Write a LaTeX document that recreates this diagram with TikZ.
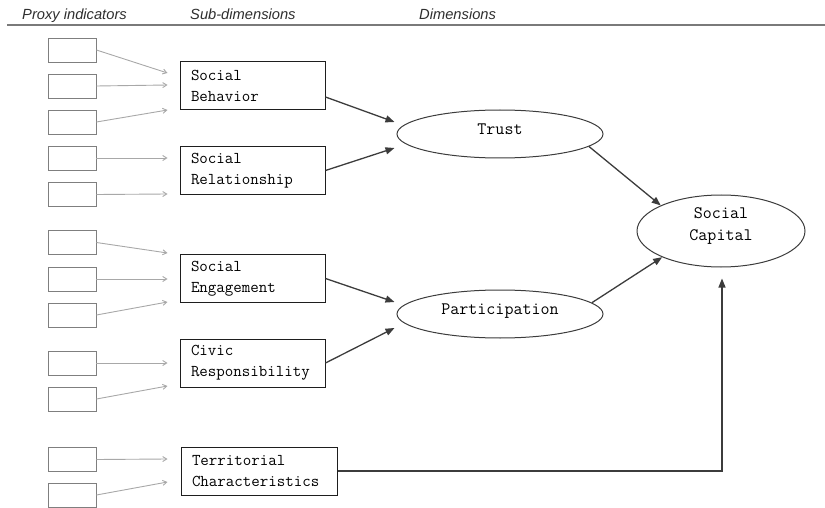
\documentclass[tikz,border=0pt]{standalone}
\usepackage{fontspec}
\setsansfont{Liberation Sans}
\usepackage{xcolor}
\usepackage{tikz}
\usetikzlibrary{arrows.meta,positioning,shapes.geometric,calc}
\definecolor{ink}{HTML}{1E1E1E}
\definecolor{darkline}{HTML}{3C3C3C}
\definecolor{proxygray}{HTML}{7F7F7F}
\definecolor{arrowgray}{HTML}{A8A8A8}
\definecolor{rulegray}{HTML}{7A7A7A}
\definecolor{headtext}{HTML}{2E2E2E}
\tikzset{
  proxybox/.style={
    rectangle, draw=proxygray, line width=0.9pt,
    minimum width=48pt, minimum height=24pt, inner sep=0pt
  },
  subbox/.style={
    rectangle, draw=ink, line width=1pt,
    minimum width=145pt, minimum height=48pt,
    font=\fontsize{16.5}{21}\selectfont\ttfamily, align=left,
    text width=#1, inner xsep=11pt, inner ysep=3pt
  },
  subbox/.default=123pt,
  dimnode/.style={
    ellipse, draw=darkline, line width=1pt, inner sep=0pt,
    font=\fontsize{17.5}{22}\selectfont\ttfamily, align=center
  },
  proxyarrow/.style={
    -{Straight Barb[length=4pt, width=5pt]}, line width=0.9pt, color=arrowgray
  },
  linkarrow/.style={
    -{Triangle[length=9pt, width=7pt]}, line width=1.3pt, color=darkline
  },
  headnode/.style={
    font=\fontsize{14.7}{17}\selectfont\sffamily\itshape, text=headtext,
    anchor=base west, inner sep=0pt
  },
}
\begin{document}
\begin{tikzpicture}[x=1pt, y=-1pt]
\useasboundingbox (0,0) rectangle (825,508);

% Column headings and rule
\node[headnode] (hproxy) at (22,19.5) {Proxy indicators};
\node[headnode] (hsub) at (190,19.5) {Sub-dimensions};
\node[headnode] (hdim) at (419,19.5) {Dimensions};
\coordinate (ruleL) at (7,25);
\coordinate (ruleR) at (825,25);
\draw[rulegray, line width=1.4pt] (ruleL) -- (ruleR);

% Sub-dimensions
\node[subbox] (sb) at (252.5,86) {Social\\Behavior};
\node[subbox] (sr) at (252.5,170.5) {Social\\Relationship};
\node[subbox] (se) at (252.5,278.5) {Social\\Engagement};
\node[subbox] (cr) at (252.5,363) {Civic\\Responsibility};
\node[subbox=134pt, minimum width=156pt] (tc) at (259,471) {Territorial\\Characteristics};

% Dimensions (text sits a little above centre)
\node[dimnode, minimum width=206pt, minimum height=48pt, text depth=10pt] (trust) at (500,134) {Trust};
\node[dimnode, minimum width=206pt, minimum height=48pt, text depth=10pt] (part) at (500,314) {Participation};
\node[dimnode, minimum width=168pt, minimum height=72pt, text depth=13pt] (cap) at (721,231) {Social\\Capital};

% Proxy indicators
\node[proxybox] (p1) at (72,50) {};
\node[proxybox] (p2) at (72,86) {};
\node[proxybox] (p3) at (72,122) {};
\node[proxybox] (p4) at (72,158) {};
\node[proxybox] (p5) at (72,194.5) {};
\node[proxybox] (p6) at (72,242.5) {};
\node[proxybox] (p7) at (72,279) {};
\node[proxybox] (p8) at (72,315) {};
\node[proxybox] (p9) at (72,363) {};
\node[proxybox] (p10) at (72,399) {};
\node[proxybox] (p11) at (72,459.5) {};
\node[proxybox] (p12) at (72,495) {};

% Proxy arrows (stop short of the boxes)
\draw[proxyarrow] (p1.east) -- ($(sb.west)+(-12,-13)$);
\draw[proxyarrow] (p2.east) -- ($(sb.west)+(-12,-1)$);
\draw[proxyarrow] (p3.east) -- ($(sb.west)+(-12,24)$);
\draw[proxyarrow] (p4.east) -- ($(sr.west)+(-12,-12.5)$);
\draw[proxyarrow] (p5.east) -- ($(sr.west)+(-12,23.5)$);
\draw[proxyarrow] (p6.east) -- ($(se.west)+(-12,-25.5)$);
\draw[proxyarrow] (p7.east) -- ($(se.west)+(-12,0.5)$);
\draw[proxyarrow] (p8.east) -- ($(se.west)+(-12,23.5)$);
\draw[proxyarrow] (p9.east) -- ($(cr.west)+(-12,0)$);
\draw[proxyarrow] (p10.east) -- ($(cr.west)+(-12,23)$);
\draw[proxyarrow] (p11.east) -- ($(tc.west)+(-13,-12)$);
\draw[proxyarrow] (p12.east) -- ($(tc.west)+(-13,11)$);

% Sub-dimensions to dimensions
\draw[linkarrow] ($(sb.east)+(0,11)$) -- ($(trust.west)+(-2,-12)$);
\draw[linkarrow] (sr.east) -- ($(trust.west)+(-2,14)$);
\draw[linkarrow] (se.east) -- ($(part.west)+(-2,-12)$);
\draw[linkarrow] (cr.east) -- ($(part.west)+(-2,14)$);

% Dimensions to social capital
\draw[linkarrow] (trust.-8.5) -- (cap.157);
\draw[linkarrow] (part.7.6) -- (cap.204);
\draw[linkarrow] (tc.east) -| ($(cap.south)+(1,11)$);

\end{tikzpicture}
\end{document}
